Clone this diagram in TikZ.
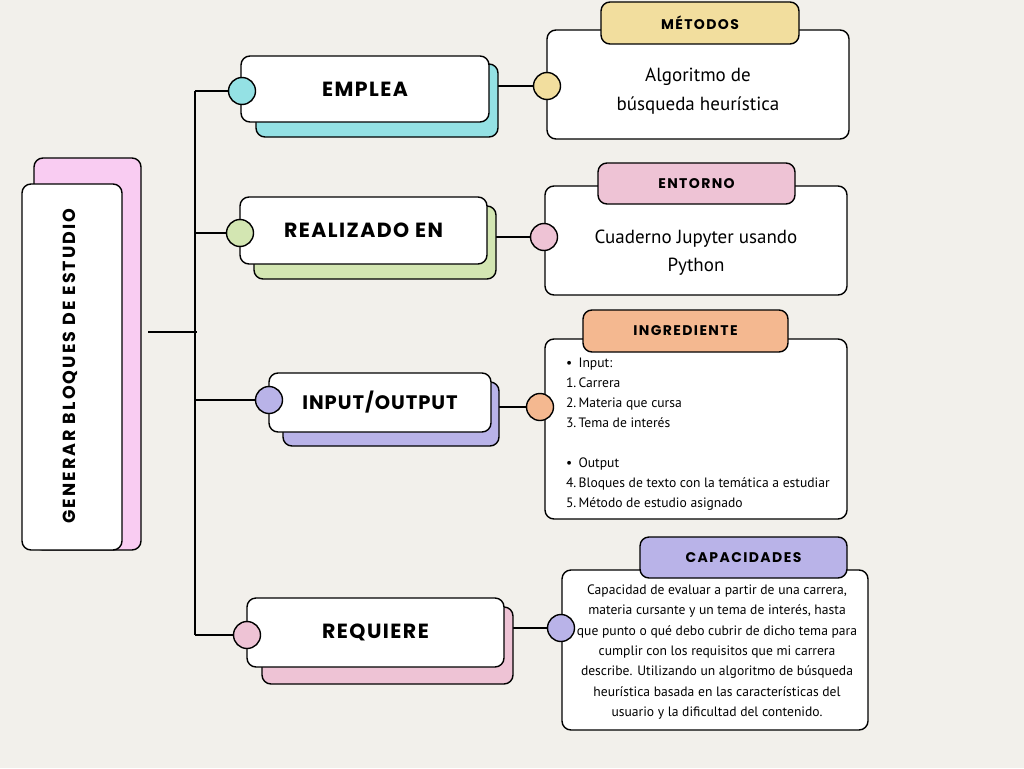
\documentclass[tikz,border=0pt]{standalone}
\usepackage{fontspec}
\setmainfont{PT Sans}
\newfontfamily\headfont{Poppins}
\definecolor{bgc}{HTML}{F2F0EB}
\definecolor{cyanc}{HTML}{94E1E4}
\definecolor{yelc}{HTML}{F2DE9E}
\definecolor{grnc}{HTML}{D3E6B2}
\definecolor{pinkc}{HTML}{EEC3D5}
\definecolor{lavc}{HTML}{B9B3E8}
\definecolor{orac}{HTML}{F4B890}
\definecolor{titc}{HTML}{F9CCF2}
\pgfdeclarelayer{bg}
\pgfdeclarelayer{lines}
\pgfsetlayers{bg,lines,main}
\newcommand{\twolines}[3]{\raisebox{#1}[0pt][0pt]{\begin{tabular}{@{}c@{}}#2\\#3\end{tabular}}}
\begin{document}
\begin{tikzpicture}[x=1pt,y=-1pt,
  every node/.style={inner sep=0pt, outer sep=0pt},
  card/.style={draw=black, line width=1.4pt, rounded corners=9pt, fill=white},
  shadowcard/.style={card, fill=#1},
  dot/.style={circle, draw=black, line width=1.4pt, fill=#1, minimum size=27pt},
  link/.style={line width=1.4pt},
  headtxt/.style={font=\headfont\bfseries\addfontfeatures{LetterSpace=7}\fontsize{20.5}{24}\selectfont},
  tabtxt/.style={font=\headfont\bfseries\addfontfeatures{LetterSpace=10}\fontsize{14}{16}\selectfont},
  bodytxt/.style={font=\fontsize{19}{28.5}\selectfont, align=center},
  smalltxt/.style={font=\fontsize{13.6}{20.4}\selectfont, align=center},
]
\useasboundingbox (0,0) rectangle (1024,768);
\begin{pgfonlayer}{bg}
\fill[bgc] (0,0) rectangle (1024,768);
\end{pgfonlayer}

% title
\node[shadowcard=titc, minimum width=107, minimum height=392] (tsh) at (87.5,354) {};
\node[card, minimum width=100, minimum height=366] (title) at (72,367) {};
\node[rotate=90, font=\headfont\bfseries\addfontfeatures{LetterSpace=12}\fontsize{17.5}{19}\selectfont] (titletxt) at (70,366) {GENERAR BLOQUES DE ESTUDIO};

% branch 1
\node[shadowcard=cyanc, minimum width=242, minimum height=73] (sh1) at (377,100.5) {};
\node[card, minimum width=248, minimum height=66, headtxt] (b1) at (365,89) {EMPLEA};
\node[dot=cyanc] (c1) at (242,91) {};
\node[card, minimum width=302, minimum height=109, bodytxt] (m1) at (698,84.5) {\twolines{-10pt}{Algoritmo de}{búsqueda heurística}};
\node[shadowcard=yelc, minimum width=198, minimum height=42, tabtxt] (t1) at (700,23) {MÉTODOS};
\node[dot=yelc] (d1) at (547,86) {};

% branch 2
\node[shadowcard=grnc, minimum width=242, minimum height=73] (sh2) at (375,242.5) {};
\node[card, minimum width=247, minimum height=67, headtxt] (b2) at (363.5,230.5) {REALIZADO EN};
\node[dot=grnc] (c2) at (240,233) {};
\node[card, minimum width=302, minimum height=109, bodytxt] (m2) at (696,240.5) {\twolines{-15.5pt}{Cuaderno Jupyter usando}{Python}};
\node[shadowcard=pinkc, minimum width=197, minimum height=41, tabtxt] (t2) at (696.5,183.5) {ENTORNO};
\node[dot=pinkc] (d2) at (544,237) {};

% branch 3
\node[shadowcard=lavc, minimum width=216, minimum height=64] (sh3) at (391,414) {};
\node[card, minimum width=222, minimum height=59, headtxt, font=\headfont\bfseries\addfontfeatures{LetterSpace=5}\fontsize{19.5}{22}\selectfont] (b3) at (380,402.5) {INPUT/OUTPUT};
\node[dot=lavc] (c3) at (269,400) {};
\node[card, minimum width=302, minimum height=180] (m3) at (696,429) {};
\node[shadowcard=orac, minimum width=205, minimum height=42, tabtxt] (t3) at (685.5,331) {INGREDIENTE};
\node[dot=orac] (d3) at (540,407) {};
\node[anchor=north west, font=\fontsize{13.6}{20}\selectfont] (list) at (566,353) {%
\begin{tabular}{@{}r@{\,}l@{}}
\textbullet\hspace{4pt} & Input:\\
1. & Carrera\\
2. & Materia que cursa\\
3. & Tema de interés\\
 & \\
\textbullet\hspace{4pt} & Output\\
4. & Bloques de texto con la temática a estudiar\\
5. & Método de estudio asignado
\end{tabular}};

% branch 4
\node[shadowcard=pinkc, minimum width=251, minimum height=77] (sh4) at (387.5,645.5) {};
\node[card, minimum width=257, minimum height=69, headtxt] (b4) at (375.5,632.5) {REQUIERE};
\node[dot=pinkc] (c4) at (247,635) {};
\node[card, minimum width=306, minimum height=160] (m4) at (715,650) {};
\node[shadowcard=lavc, minimum width=207, minimum height=41, tabtxt] (t4) at (743.5,557.5) {CAPACIDADES};
\node[dot=lavc] (d4) at (561,628) {};
\node[smalltxt] (captxt) at (717,652) {Capacidad de evaluar a partir de una carrera,\\
materia cursante y un tema de interés, hasta\\
que punto o qué debo cubrir de dicho tema para\\
cumplir con los requisitos que mi carrera\\
describe. Utilizando un algoritmo de búsqueda\\
heurística basada en las características del\\
usuario y la dificultad del contenido.};

% connectors
\coordinate (hs) at (148,332);
\coordinate (hsE) at (197,332);
\coordinate (tTop) at (195,91);
\coordinate (tBot) at (195,635);
\begin{pgfonlayer}{lines}
\draw[link] (hs) -- (hsE);
\draw[link] (tTop) -- (tBot);
\draw[link] (tTop) -- (c1);
\draw[link] (tTop |- c2) -- (c2);
\draw[link] (tTop |- c3) -- (c3);
\draw[link] (tBot) -- (c4);
\draw[link] (sh1.east |- d1) -- (d1);
\draw[link] (sh2.east |- d2) -- (d2);
\draw[link] (sh3.east |- d3) -- (d3);
\draw[link] (sh4.east |- d4) -- (d4);
\end{pgfonlayer}
\end{tikzpicture}
\end{document}
